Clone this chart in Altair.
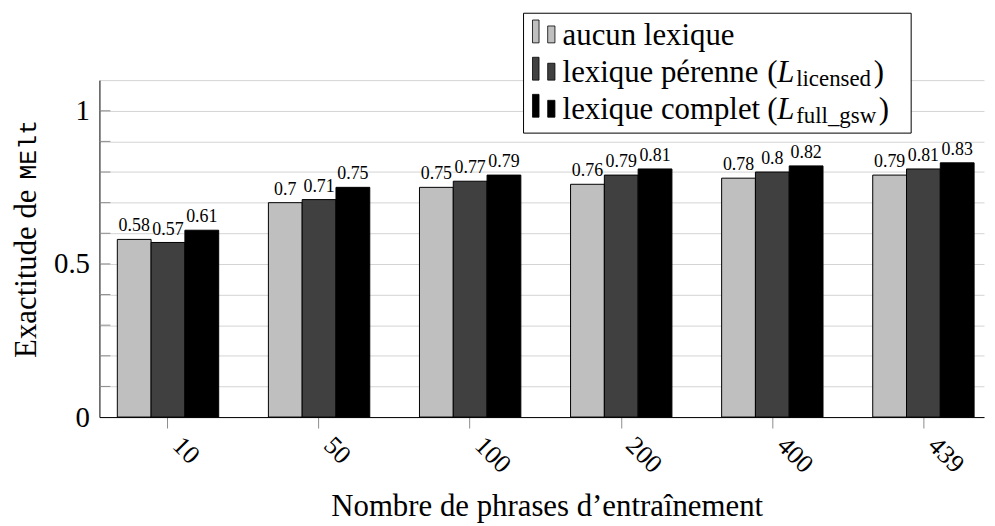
import altair as alt
import pandas as pd

# ---------------- data ----------------
categories = ["10", "50", "100", "200", "400", "439"]
series_keys = ["aucun", "perenne", "complet"]
aucun = [0.58, 0.70, 0.75, 0.76, 0.78, 0.79]
perenne = [0.57, 0.71, 0.77, 0.79, 0.80, 0.81]
complet = [0.61, 0.75, 0.79, 0.81, 0.82, 0.83]
bar_colors = ["#bfbfbf", "#404040", "#000000"]

y_grid_values = [0.0, 0.1, 0.2, 0.3, 0.4, 0.5, 0.6, 0.7, 0.8, 0.9, 1.0, 1.1]
y_inner_ticks = [0.1, 0.2, 0.3, 0.4, 0.5, 0.6, 0.7, 0.8, 0.9, 1.0]
y_label_values = [0, 0.5, 1]

x_title = "Nombre de phrases d’entraînement"
y_title_serif = "Exactitude de"
y_title_mono = "MElt"
legend_main = ["aucun lexique", "lexique pérenne", "lexique complet"]
legend_subs = ["", "licensed", "full_gsw"]

rows = []
for key, vals in zip(series_keys, [aucun, perenne, complet]):
    for c, v in zip(categories, vals):
        rows.append({"n": c, "serie": key, "value": v})
df = pd.DataFrame(rows)

SERIF = "Liberation Serif, Times New Roman, serif"
MONO = "Liberation Mono, DejaVu Sans Mono, monospace"

# ---------------- main chart ----------------
label_expr = ("indexof([" + ",".join(str(v) for v in y_label_values) +
              "], datum.value) >= 0 ? format(datum.value, '~g') : ''")

x_enc = alt.X(
    "n:N", sort=categories,
    scale=alt.Scale(paddingInner=0.329, paddingOuter=0.092, align=0.643),
    axis=alt.Axis(
        title=x_title, titleFont=SERIF, titleFontSize=31, titleFontWeight="normal",
        titleColor="black", titleX=450, titleY=99, titleBaseline="alphabetic",
        titleAlign="center",
        labelAngle=45, labelAlign="left", labelBaseline="middle", labelPadding=13,
        labelOffset=9,
        labelFont=SERIF, labelFontSize=26, labelColor="black",
        labelOverlap=False, labelBound=False, labelFlush=False,
        tickSize=11, tickColor="#8c8c8c", tickWidth=1,
        domainColor="black", domainWidth=1, grid=False,
    ),
)
xoff_enc = alt.XOffset("serie:N", sort=series_keys,
                       scale=alt.Scale(paddingInner=0, paddingOuter=0))
y_scale = alt.Scale(domain=[0, 1.1], nice=False, zero=True)
y_axis = alt.Axis(
    title=None, values=y_grid_values, grid=True, gridColor="#d4d4d4", gridWidth=1,
    ticks=False, domain=True, domainColor="black", domainWidth=1,
    labelExpr=label_expr, labelFont=SERIF, labelFontSize=29, labelColor="black",
    labelPadding=10,
)
y_enc = alt.Y("value:Q", scale=y_scale, axis=y_axis)

base = alt.Chart(df).encode(x=x_enc, xOffset=xoff_enc, y=y_enc)

bars = base.mark_bar(stroke="black", strokeWidth=1).encode(
    color=alt.Color("serie:N", scale=alt.Scale(domain=series_keys, range=bar_colors),
                    legend=None)
)
labels = base.mark_text(font=SERIF, fontSize=18, baseline="alphabetic", dy=-8,
                        color="black").encode(text=alt.Text("value:Q", format="~g"))

inner_ticks = alt.Chart(pd.DataFrame({"value": y_inner_ticks})).mark_rule(
    color="#8c8c8c", strokeWidth=1
).encode(y=y_enc, x=alt.value(0), x2=alt.value(11))


def txt(s, x, y, size=31, style="normal", font=SERIF, align="left", angle=0):
    return alt.Chart(pd.DataFrame({"t": [s]})).mark_text(
        font=font, fontSize=size, fontStyle=style, align=align,
        baseline="alphabetic", angle=angle, color="black"
    ).encode(x=alt.value(x), y=alt.value(y), text="t:N")


def box(x1, x2, y1, y2, fill, stroke="black", sw=1.0):
    return alt.Chart(pd.DataFrame({"t": [0]})).mark_rect(
        fill=fill, stroke=stroke, strokeWidth=sw
    ).encode(x=alt.value(x1), x2=alt.value(x2), y=alt.value(y1), y2=alt.value(y2))


# ---------------- legend (hand-built for the math subscripts) ----------------
legend_layers = [box(426.7, 816.7, -67.3, 53.3, "white")]
row_base = [-35.5, 2.0, 39.3]
for i, yb in enumerate(row_base):
    legend_layers.append(box(435.7, 442.3, yb - 25, yb - 2, bar_colors[i], sw=0.8))
    legend_layers.append(box(451.0, 458.3, yb - 19, yb - 2, bar_colors[i], sw=0.8))
    legend_layers.append(txt(legend_main[i], 466, yb))
    if legend_subs[i]:
        legend_layers.append(txt("(", 672, yb))
        legend_layers.append(txt("L", 682, yb, style="italic"))
        legend_layers.append(txt(legend_subs[i], 701, yb + 4, size=23))
        close_x = 779 if i == 1 else 784
        legend_layers.append(txt(")", close_x, yb))

# ---------------- y title (serif + typewriter) ----------------
title_layers = [
    txt(y_title_serif, -64, 110, size=31, align="right", angle=270),
    txt(y_title_mono, -64, 100, size=25, font=MONO, align="left", angle=270),
]

chart = alt.layer(inner_ticks, bars, labels, *legend_layers, *title_layers).properties(
    width=890, height=339,
    padding={"left": 92, "top": 71, "right": 3, "bottom": 106},
    autosize=alt.AutoSizeParams(type="none"),
).configure_view(stroke=None)

chart.save("out.html", embed_options={"renderer": "svg", "actions": False})
